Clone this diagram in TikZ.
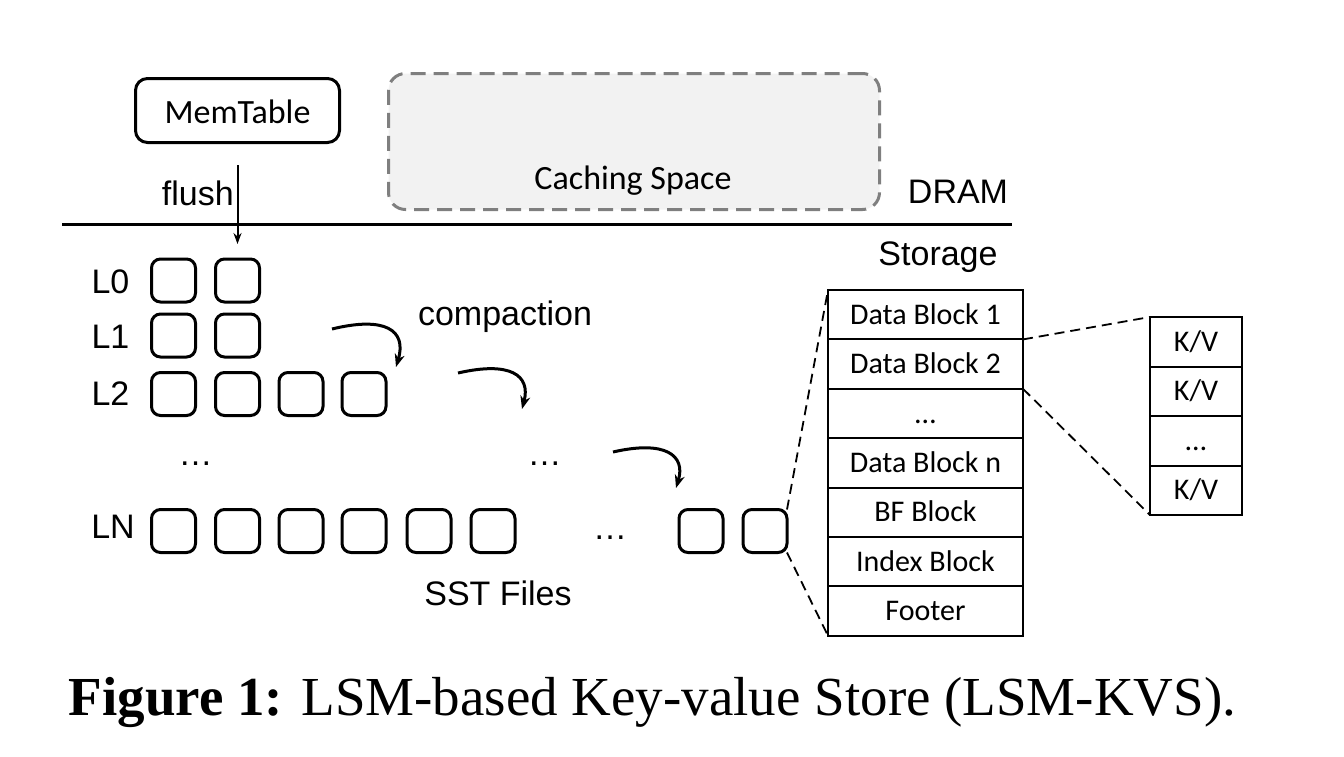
\documentclass[tikz,border=0pt]{standalone}
\usepackage{fontspec}
\setmainfont{Liberation Serif}
\newfontfamily\arialf{Liberation Sans}
\newfontfamily\calf{Carlito}
\usetikzlibrary{arrows.meta}
\definecolor{cgray}{HTML}{7F7F7F}
\definecolor{cfill}{HTML}{F2F2F2}
\begin{document}
\begin{tikzpicture}[x=1pt,y=-1pt,
  ar/.style={font=\arialf\fontsize{34}{40}\selectfont, inner sep=0pt, anchor=base},
  ca/.style={font=\calf\fontsize{34}{40}\selectfont, inner sep=0pt, anchor=base},
  sst/.style={draw, line width=3pt, rounded corners=9pt, minimum width=44pt, minimum height=43pt, inner sep=0pt, outer sep=0pt},
  cell/.style={draw, line width=2pt, minimum width=195pt, minimum height=49.4pt, inner sep=0pt, outer sep=0pt, font=\calf\fontsize{30}{36}\selectfont, text height=19.3pt, text depth=0pt},
  kv/.style={cell, minimum width=92pt, minimum height=49.5pt},
  zoomln/.style={line width=1.8pt, dash pattern=on 10pt off 6pt},
  comp/.style={line width=3pt, -{Stealth[length=13pt,width=10pt]}},
]
\useasboundingbox (0,0) rectangle (1344,756);

% DRAM region
\node[draw, line width=3pt, rounded corners=12pt, minimum width=204pt, minimum height=64pt, inner sep=0pt] (mem) at (237.5,110.5) {};
\node[ca] (memtxt) at (237.5,123) {MemTable};
\node[draw=cgray, fill=cfill, line width=3pt, dash pattern=on 15pt off 8pt, rounded corners=17pt, minimum width=491pt, minimum height=136pt, inner sep=0pt] (cache) at (634,141.5) {};
\node[ca] (cachetxt) at (633,189) {Caching Space};
\node[ar] (dram) at (958,203) {DRAM};
\node[ar] (storage) at (938,265) {Storage};
\coordinate (hl) at (62,224);
\coordinate (hr) at (1012,224);
\draw[line width=3pt] (hl) -- (hr);
\node[ar, anchor=base east] (flush) at (234,205) {flush};

% levels
\node[ar] (L0) at (110.5,293) {L0};
\node[ar] (L1) at (110.5,348) {L1};
\node[ar] (L2) at (110.5,405) {L2};
\node[ar] (LN) at (113,538) {LN};
\node[ar] (dots1) at (195.5,465) {…};
\node[ar] (dots2) at (544.5,465) {…};
\node[ar] (dots3) at (610,539) {…};
\node[ar] (comptxt) at (505,325) {compaction};
\node[ar] (ssttxt) at (498,605) {SST Files};

\node[sst] (l0a) at (173.5,280.5) {};
\node[sst] (l0b) at (237.5,280.5) {};
\node[sst] (l1a) at (173.5,335.5) {};
\node[sst] (l1b) at (237.5,335.5) {};
\node[sst] (l2a) at (173.5,394) {};
\node[sst] (l2b) at (237.5,394) {};
\node[sst] (l2c) at (301,394) {};
\node[sst] (l2d) at (364,394) {};
\node[sst] (lna) at (173.5,531) {};
\node[sst] (lnb) at (237.5,531) {};
\node[sst] (lnc) at (301,531) {};
\node[sst] (lnd) at (364,531) {};
\node[sst] (lne) at (429,531) {};
\node[sst] (lnf) at (493,531) {};
\node[sst] (lng) at (701,531) {};
\node[sst] (lnh) at (765,531) {};

\draw[line width=2pt, -{Stealth[length=11pt,width=8pt]}] ([yshift=-21pt]mem.south) -- ([yshift=15pt]l0b.north);

% compaction arrows
\coordinate (a1s) at (332,329);
\coordinate (a1e) at (396,367);
\coordinate (a2s) at (458,373);
\coordinate (a2e) at (522,409);
\coordinate (a3s) at (613,452);
\coordinate (a3e) at (676,488);
\draw[comp] (a1s) .. controls (385,316) and (407,330) .. (a1e);
\draw[comp] (a2s) .. controls (510,361) and (531,375) .. (a2e);
\draw[comp] (a3s) .. controls (665,440) and (686,455) .. (a3e);

% SST file layout
\node[cell] (r1) at (925.5,314.7) {Data Block 1};
\node[cell] (r2) at (925.5,364.1) {Data Block 2};
\node[cell] (r3) at (925.5,413.5) {…};
\node[cell] (r4) at (925.5,462.9) {Data Block n};
\node[cell] (r5) at (925.5,512.3) {BF Block};
\node[cell] (r6) at (925.5,561.7) {Index Block};
\node[cell] (r7) at (925.5,611.1) {Footer};

\node[kv] (k1) at (1196,341.75) {K/V};
\node[kv] (k2) at (1196,391.25) {K/V};
\node[kv] (k3) at (1196,440.75) {…};
\node[kv] (k4) at (1196,490.25) {K/V};

\draw[zoomln] (lnh.north east) -- (r1.north west);
\draw[zoomln] (lnh.south east) -- (r7.south west);
\draw[zoomln] (r1.south east) -- (k1.north west);
\draw[zoomln] (r2.south east) -- (k4.south west);

% caption
\node[anchor=base, inner sep=0pt, font=\fontsize{55}{60}\selectfont] (cap) at (652.5,715) {\textbf{Figure 1:} LSM-based Key-value Store (LSM-KVS).};
\end{tikzpicture}
\end{document}
